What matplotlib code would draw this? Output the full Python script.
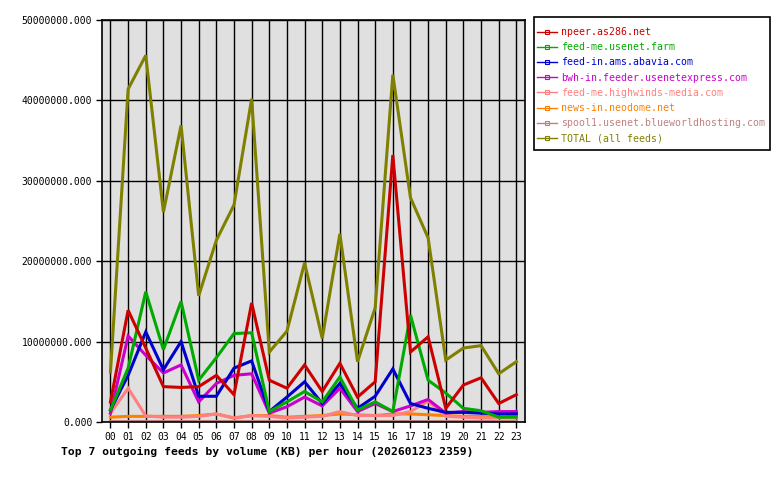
import matplotlib
matplotlib.use('Agg')
from matplotlib import pyplot as plt
from matplotlib.lines import Line2D
from matplotlib.patches import Rectangle
from matplotlib.ticker import FuncFormatter

hours = ['%02d' % h for h in range(24)]

feeds = ['npeer.as286.net', 'feed-me.usenet.farm', 'feed-in.ams.abavia.com',
         'bwh-in.feeder.usenetexpress.com', 'feed-me.highwinds-media.com',
         'news-in.neodome.net', 'spool1.usenet.blueworldhosting.com',
         'TOTAL (all feeds)']
colors = ['#cc0000', '#00aa00', '#0000cc', '#cc00cc', '#ff8080',
          '#ff8000', '#c08080', '#808000']

# values in KB
npeer = [2.5e6, 13.9e6, 9.2e6, 4.4e6, 4.3e6, 4.4e6, 5.8e6, 3.4e6, 14.8e6, 5.2e6,
         4.2e6, 7.1e6, 3.8e6, 7.3e6, 3.1e6, 5.0e6, 33.2e6, 8.7e6, 10.6e6, 1.7e6,
         4.6e6, 5.5e6, 2.3e6, 3.4e6]
usenet_farm = [1.5e6, 6.7e6, 16.2e6, 9.0e6, 15.0e6, 5.2e6, 8.0e6, 11.0e6, 11.1e6, 1.3e6,
               2.5e6, 3.8e6, 2.5e6, 5.6e6, 1.5e6, 2.5e6, 1.3e6, 13.3e6, 5.2e6, 3.6e6,
               1.7e6, 1.4e6, 0.6e6, 0.6e6]
abavia = [1.5e6, 5.8e6, 11.2e6, 6.5e6, 10.0e6, 3.2e6, 3.2e6, 6.7e6, 7.6e6, 1.3e6,
          3.1e6, 5.0e6, 2.3e6, 4.8e6, 1.7e6, 3.2e6, 6.6e6, 2.3e6, 1.7e6, 1.2e6,
          1.2e6, 1.1e6, 1.0e6, 1.0e6]
usenetexpress = [1.1e6, 10.7e6, 8.3e6, 6.1e6, 7.1e6, 2.5e6, 4.8e6, 5.8e6, 6.0e6, 1.1e6,
                 1.9e6, 3.1e6, 2.0e6, 4.2e6, 1.3e6, 2.3e6, 1.3e6, 2.0e6, 2.8e6, 1.1e6,
                 1.3e6, 1.2e6, 1.3e6, 1.3e6]
highwinds = [1.1e6, 4.2e6, 0.75e6, 0.6e6, 0.6e6, 0.7e6, 1.0e6, 0.5e6, 0.8e6, 0.7e6,
             0.5e6, 0.6e6, 0.7e6, 1.3e6, 0.8e6, 0.8e6, 0.8e6, 1.3e6, 2.6e6, 0.7e6,
             0.6e6, 0.5e6, 0.5e6, 0.5e6]
neodome = [0.6e6, 0.7e6, 0.7e6, 0.7e6, 0.7e6, 0.8e6, 1.0e6, 0.5e6, 0.8e6, 0.8e6,
           0.6e6, 0.7e6, 0.8e6, 1.0e6, 0.9e6, 0.8e6, 1.0e6, 1.0e6, 0.9e6, 0.8e6,
           0.7e6, 0.7e6, 0.6e6, 0.7e6]
blueworld = [0.16e6] * 24
total = [6.2e6, 41.4e6, 45.6e6, 26.1e6, 36.9e6, 15.7e6, 22.6e6, 27.0e6, 40.2e6, 8.7e6,
         11.3e6, 19.8e6, 10.4e6, 23.4e6, 7.5e6, 14.2e6, 43.2e6, 27.9e6, 22.9e6, 7.7e6,
         9.2e6, 9.5e6, 6.0e6, 7.5e6]

series = [npeer, usenet_farm, abavia, usenetexpress, highwinds, neodome,
          blueworld, total]

mono = 'DejaVu Sans Mono'
plt.rcParams['font.family'] = mono

W, H = 780, 480
fig = plt.figure(figsize=(W/100, H/100), dpi=100)
ax = fig.add_axes([102/W, 58/H, 423/W, 402/H])
ax.set_facecolor('#e0e0e0')

x = list(range(24))
# draw back to front so that the first feeds sit on top like the original
for vals, col in reversed(list(zip(series, colors))):
    ax.plot(x, vals, color=col, lw=2.2, solid_joinstyle='miter')

ax.set_xlim(-0.48, 23.49)
ax.set_ylim(0, 50e6)
ax.set_xticks(x)
ax.set_xticklabels(hours)
ax.set_yticks([0, 10e6, 20e6, 30e6, 40e6, 50e6])
ax.yaxis.set_major_formatter(FuncFormatter(lambda v, p: '%.3f' % v))
ax.tick_params(axis='both', labelsize=7.0, length=4, width=1, color='black',
               pad=3)
ax.grid(True, color='black', lw=1)
ax.set_axisbelow(True)
for s in ax.spines.values():
    s.set_linewidth(1.2)

fig.text(61/W, 1 - 452/H, 'Top 7 outgoing feeds by volume (KB) per hour (20260123 2359)',
         fontsize=8.2, fontweight='bold', va='center', ha='left')

# legend box drawn separately so the padding matches the original
fig.patches.append(Rectangle((534/W, 1 - 150/H), 236/W, 133/H,
                             transform=fig.transFigure, facecolor='white',
                             edgecolor='black', lw=1.2))

handles = [Line2D([], [], color=c, lw=1, marker='s', markersize=3,
                  markerfacecolor='none', markeredgewidth=0.8) for c in colors]
leg = fig.legend(handles, feeds, loc='upper left',
                 bbox_to_anchor=(537/W, 1 - 27/H), fontsize=7.1,
                 frameon=False, borderaxespad=0, borderpad=0,
                 handlelength=2.05, handletextpad=0.4, labelspacing=0.53)
for t, c in zip(leg.get_texts(), colors):
    t.set_color(c)

fig.savefig('out.png', dpi=100)
